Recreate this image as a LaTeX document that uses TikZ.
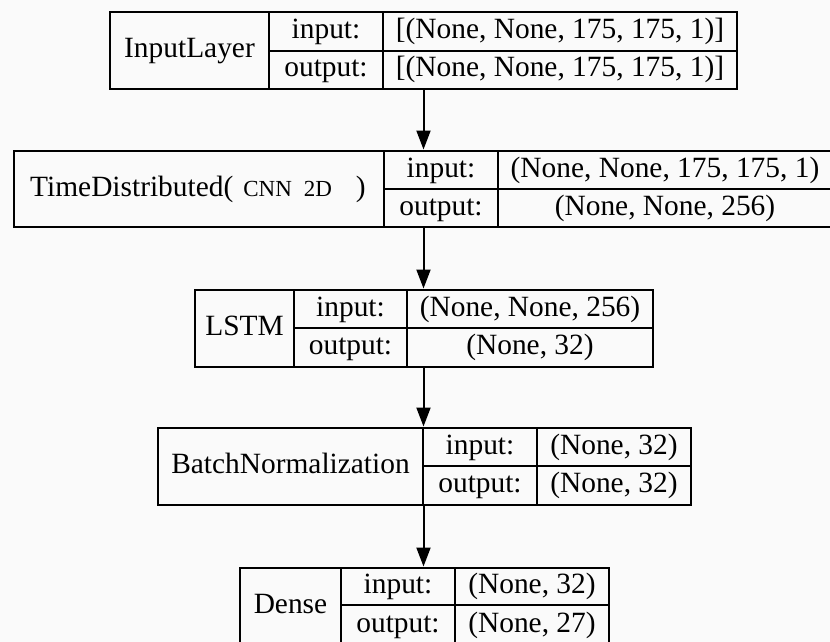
\documentclass[tikz,border=0pt]{standalone}
\usepackage{fontspec}
\setmainfont{Liberation Serif}
\usetikzlibrary{arrows.meta}
\definecolor{bgc}{RGB}{250,250,250}
\tikzset{
  layerbox/.style={draw=black, line width=2pt, rectangle, inner sep=0pt, fill=none},
  divline/.style={draw=black, line width=1.3pt},
  txt/.style={inner sep=0pt, text height=21pt, text depth=7pt, font=\fontsize{29.4}{34}\selectfont},
  flow/.style={draw=black, line width=2pt, -{Triangle[width=14pt,length=19pt]}, shorten >=0.5pt}
}
\newcommand{\smallcnn}{\fontsize{23}{27}\selectfont}
\begin{document}
\begin{tikzpicture}[x=1pt,y=-1pt]
\fill[bgc] (0,0) rectangle (830,642);
\useasboundingbox (0,0) rectangle (830,642);

% Layer 1: InputLayer  left 110 right 737 top 12 bottom 89 mid 51 d1 269 d2 383
\node[layerbox, minimum width=627pt, minimum height=77pt] (L1) at (423.5,50.5) {};
\draw[divline] (269,12) -- (269,89) (383,12) -- (383,89) (269,51) -- (737,51);
\node[txt] (L1name) at (189.5,50.5) {InputLayer};
\node[txt] (L1il) at (326,31.5) {input:};
\node[txt] (L1ol) at (326,70) {output:};
\node[txt] (L1iv) at (560,31.5) {[(None, None, 175, 175, 1)]};
\node[txt] (L1ov) at (560,70) {[(None, None, 175, 175, 1)]};

% Layer 2: TimeDistributed left 14 right 832 top 151 bottom 227 mid 189 d1 384 d2 498
\node[layerbox, minimum width=818pt, minimum height=76pt] (L2) at (423,189) {};
\draw[divline] (384,151) -- (384,227) (498,151) -- (498,227) (384,189) -- (832,189);
\node[txt] (L2name) at (198,189) {TimeDistributed(\hspace{10pt}{\smallcnn CNN}\hspace{12pt}{\smallcnn 2D}\hspace{24pt})};
\node[txt] (L2il) at (441,170) {input:};
\node[txt] (L2ol) at (441,208) {output:};
\node[txt] (L2iv) at (665,170) {(None, None, 175, 175, 1)};
\node[txt] (L2ov) at (665,208) {(None, None, 256)};

% Layer 3: LSTM left 195 right 653 top 290 bottom 367 mid 328 d1 294 d2 407
\node[layerbox, minimum width=458pt, minimum height=77pt] (L3) at (424,328.5) {};
\draw[divline] (294,290) -- (294,367) (407,290) -- (407,367) (294,328) -- (653,328);
\node[txt] (L3name) at (244.5,328.5) {LSTM};
\node[txt] (L3il) at (350.5,309) {input:};
\node[txt] (L3ol) at (350.5,347.5) {output:};
\node[txt] (L3iv) at (530,309) {(None, None, 256)};
\node[txt] (L3ov) at (530,347.5) {(None, 32)};

% Layer 4: BatchNormalization left 158 right 691 top 428 bottom 505 mid 466 d1 423 d2 537
\node[layerbox, minimum width=533pt, minimum height=77pt] (L4) at (424.5,466.5) {};
\draw[divline] (423,428) -- (423,505) (537,428) -- (537,505) (423,466) -- (691,466);
\node[txt] (L4name) at (290.5,466.5) {BatchNormalization};
\node[txt] (L4il) at (480,447) {input:};
\node[txt] (L4ol) at (480,485.5) {output:};
\node[txt] (L4iv) at (614,447) {(None, 32)};
\node[txt] (L4ov) at (614,485.5) {(None, 32)};

% Layer 5: Dense left 240 right 609 top 568 bottom 645 mid 605 d1 341 d2 455
\node[layerbox, minimum width=369pt, minimum height=77pt] (L5) at (424.5,606.5) {};
\draw[divline] (341,568) -- (341,645) (455,568) -- (455,645) (341,605) -- (609,605);
\node[txt] (L5name) at (290.5,606.5) {Dense};
\node[txt] (L5il) at (398,586.5) {input:};
\node[txt] (L5ol) at (398,625) {output:};
\node[txt] (L5iv) at (532,586.5) {(None, 32)};
\node[txt] (L5ov) at (532,625) {(None, 27)};

% connectors
\draw[flow] (L1.south) -- (L1.south |- L2.north);
\draw[flow] (L1.south |- L2.south) -- (L1.south |- L3.north);
\draw[flow] (L1.south |- L3.south) -- (L1.south |- L4.north);
\draw[flow] (L1.south |- L4.south) -- (L1.south |- L5.north);
\end{tikzpicture}
\end{document}
